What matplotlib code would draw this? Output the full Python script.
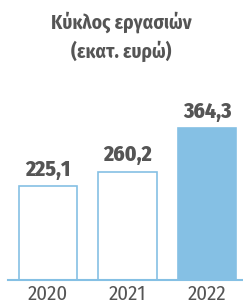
import matplotlib
matplotlib.use("Agg")
import matplotlib.pyplot as plt

years = ["2020", "2021", "2022"]
values = [225.1, 260.2, 364.3]
labels = ["225,1", "260,2", "364,3"]
title = "Κύκλος εργασιών\n(εκατ. ευρώ)"

plt.rcParams["font.family"] = ["Fira Sans Condensed", "DejaVu Sans"]

BLUE = "#85c0e4"
TXT = "#555555"

fig = plt.figure(figsize=(2.43, 3.06), dpi=100)
ax = fig.add_axes([8 / 243, 1 - 280 / 306, 235 / 243, 200 / 306])
x = list(range(len(values)))
faces = ["white", "white", BLUE]
ax.bar(x, values, width=0.73, color=faces, edgecolor=BLUE, linewidth=1.2)
for xi, v, s in zip(x, values, labels):
    ax.text(xi, v + 14, s, ha="center", va="bottom", fontsize=15.5, fontweight=800, color=TXT)
ax.set_xlim(-0.503, 2.453)
ax.set_ylim(0, 480)
ax.set_xticks(x)
ax.set_xticklabels(years, fontsize=15, color=TXT)
ax.tick_params(axis="x", length=0, pad=3.5)
ax.set_yticks([])
for sp in ["top", "right", "left"]:
    ax.spines[sp].set_visible(False)
ax.spines["bottom"].set_color(BLUE)
ax.spines["bottom"].set_linewidth(1.5)
fig.text(0.5, 1 - 37 / 306, title, ha="center", va="center", fontsize=14, fontweight="bold",
         color=TXT, linespacing=1.45)
fig.savefig("out.png", dpi=100)
